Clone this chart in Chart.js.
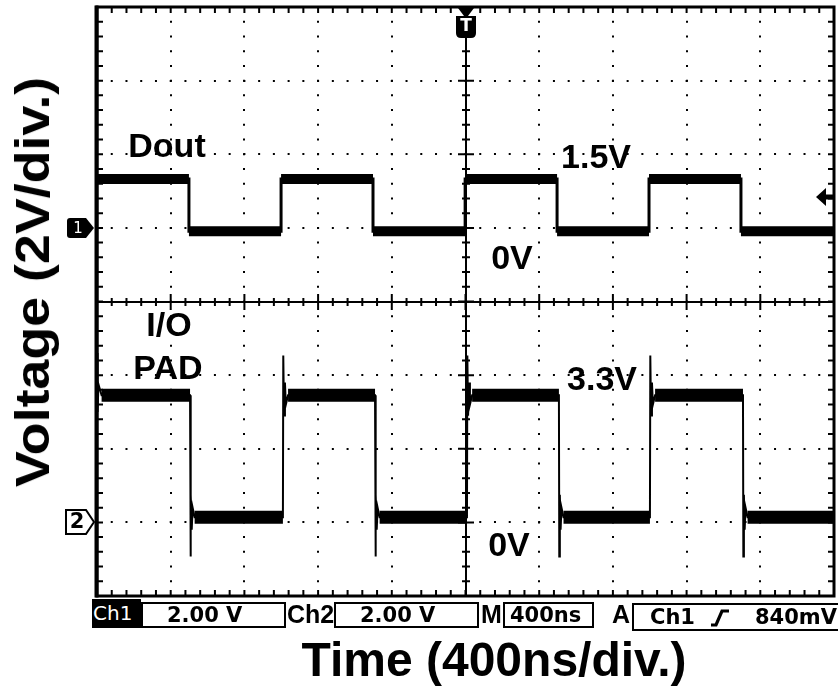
<!DOCTYPE html>
<html>
<head>
<meta charset="utf-8">
<script src="https://cdn.jsdelivr.net/npm/chart.js@4.4.1/dist/chart.umd.min.js"></script>
<style>
  html, body { margin: 0; padding: 0; background: #fff; }
  #wrap { position: relative; width: 838px; height: 693px; overflow: hidden; background: #fff; }
  #c { position: absolute; left: 0; top: 0; }
  .t { position: absolute; white-space: nowrap; color: #000; }
  .lbl { font: bold 34px "Liberation Sans", Arial, sans-serif; line-height: 34px; height: 34px; transform: translateX(-50%); }
  .box { position: absolute; box-sizing: border-box; border: 2px solid #000; background: #fff;
         font: bold 21px "DejaVu Sans", sans-serif; color: #000; white-space: nowrap; }
  .sb { font: bold 25px "Liberation Sans", Arial, sans-serif; line-height: 26px; height: 26px; }
</style>
</head>
<body>
<div id="wrap">
  <canvas id="c" width="838" height="693"></canvas>

  <!-- axis titles -->
  <div class="t" id="xtitle" style="left:494px; top:636px; font:bold 48px 'Liberation Sans', Arial, sans-serif; line-height:48px; height:48px; transform:translateX(-50%);"></div>
  <div class="t" id="ytitle" style="left:33px; top:282px; font:bold 48px 'Liberation Sans', Arial, sans-serif; line-height:48px; height:48px; transform:translate(-50%,-50%) rotate(-90deg) scaleX(1.12);"></div>

  <!-- trace annotations -->
  <div class="t lbl" id="l0" style="left:167px; top:128px;"></div>
  <div class="t lbl" id="l1" style="left:596px; top:139px;"></div>
  <div class="t lbl" id="l2" style="left:512px; top:240px;"></div>
  <div class="t lbl" id="l3" style="left:169px; top:307px;"></div>
  <div class="t lbl" id="l4" style="left:168px; top:350px;"></div>
  <div class="t lbl" id="l5" style="left:602px; top:361px;"></div>
  <div class="t lbl" id="l6" style="left:509px; top:527px;"></div>

  <!-- status bar -->
  <div class="t" id="s0" style="left:92px; top:599px; width:49px; height:29px; background:#000; color:#fff; font:20px 'DejaVu Sans', sans-serif; line-height:29px; padding-left:1px; box-sizing:border-box;"></div>
  <div class="box" style="left:141px; top:602px; width:145px; height:26px; line-height:22px; padding-left:24px;" id="s1"></div>
  <div class="t sb" id="s2" style="left:287px; top:601px;"></div>
  <div class="box" style="left:334px; top:602px; width:145px; height:26px; line-height:22px; padding-left:24px;" id="s3"></div>
  <div class="t sb" id="s4" style="left:481px; top:601px;"></div>
  <div class="box" style="left:503px; top:602px; width:91px; height:26px; line-height:22px; padding-left:5px;" id="s5"></div>
  <div class="t sb" id="s6" style="left:612px; top:601px;"></div>
  <div class="box" style="left:632px; top:603px; width:210px; height:28px; line-height:24px;" id="s7box">
    <span id="s7" style="position:absolute; left:16px; top:0;"></span>
    <svg style="position:absolute; left:76px; top:3px;" width="20" height="20" viewBox="0 0 20 20"><path d="M1 17 H6 L12 3 H19" fill="none" stroke="#000" stroke-width="3.2"/></svg>
    <span id="s8" style="position:absolute; left:121px; top:0;"></span>
  </div>
</div>

<script>
// ---------------- data ----------------
// time axis: 10 divisions of 400 ns
const timeMin = 0;
const timeMax = 4000;
const timePerDiv = 400;

// Ch1 (Dout): 2 V/div, ground marker at +1 div
const ch1Time = [0, 499, 499, 999, 999, 1498, 1498, 1998, 1998, 2497, 2497, 2996, 2996, 3495, 3495, 4000];
const ch1Volt = [1.33, 1.33, -0.09, -0.09, 1.33, 1.33, -0.09, -0.09, 1.33, 1.33, -0.09, -0.09, 1.33, 1.33, -0.09, -0.09];

// Ch2 (I/O PAD): 2 V/div, ground marker at -3 div, with overshoot / undershoot ringing at edges
const ch2Time = [0, 3, 8, 25,
  505, 507, 510, 514, 519, 530,
  1009, 1011, 1015, 1020, 1025, 1037,
  1509, 1511, 1514, 1518, 1523, 1534,
  2008, 2010, 2014, 2019, 2024, 2036,
  2507, 2509, 2512, 2516, 2521, 2532,
  3001, 3003, 3007, 3012, 3017, 3029,
  3506, 3508, 3511, 3515, 3520, 3531,
  4000];
const ch2Volt = [4.6, 3.0, 3.75, 3.45,
  3.45, -0.93, 0.75, -0.2, 0.4, 0.14,
  0.14, 4.53, 2.9, 3.8, 3.2, 3.45,
  3.45, -0.93, 0.75, -0.2, 0.4, 0.14,
  0.14, 4.53, 2.9, 3.8, 3.2, 3.45,
  3.45, -0.93, 0.75, -0.2, 0.4, 0.14,
  0.14, 4.53, 2.9, 3.8, 3.2, 3.45,
  3.45, -0.93, 0.75, -0.2, 0.4, 0.14,
  0.14];

const voltsPerDiv = 2;
const ch1GroundDiv = 1;
const ch2GroundDiv = -3;
const triggerLevel = 0.84; // V on Ch1

// texts
const xTitle = 'Time (400ns/div.)';
const yTitle = 'Voltage (2V/div.)';
const traceLabels = ['Dout', '1.5V', '0V', 'I/O', 'PAD', '3.3V', '0V'];
const statusTexts = ['Ch1', '2.00 V', 'Ch2', '2.00 V', 'M', '400ns', 'A', 'Ch1', '840mV'];

// ---------------- text overlays ----------------
document.getElementById('xtitle').textContent = xTitle;
document.getElementById('ytitle').textContent = yTitle;
traceLabels.forEach((s, i) => document.getElementById('l' + i).textContent = s);
statusTexts.forEach((s, i) => document.getElementById('s' + i).textContent = s);

// ---------------- datasets built from the arrays ----------------
function toPoints(t, v) { return t.map((x, i) => ({ x: x, y: v[i] })); }
function levelPoints(t, v) {
  const out = [];
  for (let i = 0; i < t.length - 1; i++) {
    if (v[i] === v[i + 1] && t[i + 1] > t[i]) {
      out.push({ x: t[i], y: v[i] }, { x: t[i + 1], y: v[i + 1] }, { x: t[i + 1], y: null });
    }
  }
  return out;
}

const divs = 8;
const yDivMin = -divs / 2, yDivMax = divs / 2;

const scopePlugin = {
  id: 'scope',
  beforeDatasetsDraw(chart) {
    const { ctx, chartArea: a, scales } = chart;
    const x = scales.x, y = scales.y;
    ctx.save();
    ctx.strokeStyle = '#000';
    ctx.lineWidth = 2;
    const cx = Math.round(x.getPixelForValue((timeMin + timeMax) / 2));
    const cy = Math.round(y.getPixelForValue(0));
    ctx.beginPath();
    ctx.moveTo(a.left, cy); ctx.lineTo(a.right, cy);
    ctx.moveTo(cx, a.top); ctx.lineTo(cx, a.bottom);
    // minor ticks on the centre lines
    const nx = (timeMax - timeMin) / timePerDiv * 5;
    for (let k = 0; k <= nx; k++) {
      const px = x.getPixelForValue(timeMin + k * timePerDiv / 5);
      const L = (k % 5 === 0) ? 8 : 4;
      ctx.moveTo(px, cy - L); ctx.lineTo(px, cy + L);
    }
    for (let k = 0; k <= divs * 5; k++) {
      const py = y.getPixelForValue(yDivMin + k / 5);
      const L = (k % 5 === 0) ? 8 : 4;
      ctx.moveTo(cx - L, py); ctx.lineTo(cx + L, py);
    }
    ctx.stroke();
    ctx.restore();
  },
  afterDatasetsDraw(chart) {
    const { ctx, chartArea: a, scales } = chart;
    const x = scales.x, y = scales.y;
    ctx.save();
    ctx.strokeStyle = '#000';
    ctx.fillStyle = '#000';
    // frame
    ctx.lineWidth = 3;
    ctx.strokeRect(a.left, a.top, a.right - a.left, a.bottom - a.top);
    ctx.lineWidth = 4;
    ctx.beginPath(); ctx.moveTo(a.left - 0.5, a.top - 1.5); ctx.lineTo(a.left - 0.5, a.bottom + 1.5); ctx.stroke();
    // border ticks
    ctx.lineWidth = 2;
    ctx.beginPath();
    const nx = (timeMax - timeMin) / timePerDiv * 5;
    for (let k = 1; k < nx; k++) {
      const px = x.getPixelForValue(timeMin + k * timePerDiv / 5);
      ctx.moveTo(px, a.top); ctx.lineTo(px, a.top + 6);
      ctx.moveTo(px, a.bottom); ctx.lineTo(px, a.bottom - 6);
    }
    for (let k = 1; k < divs * 5; k++) {
      const py = y.getPixelForValue(yDivMin + k / 5);
      ctx.moveTo(a.left, py); ctx.lineTo(a.left + 6, py);
      ctx.moveTo(a.right, py); ctx.lineTo(a.right - 6, py);
    }
    ctx.stroke();

    // channel 1 ground marker (filled)
    const g1 = Math.round(scales.y1.getPixelForValue(0));
    ctx.beginPath();
    ctx.moveTo(70, g1 - 10); ctx.lineTo(86, g1 - 10); ctx.lineTo(94, g1); ctx.lineTo(86, g1 + 10);
    ctx.lineTo(70, g1 + 10); ctx.quadraticCurveTo(67, g1 + 10, 67, g1 + 7); ctx.lineTo(67, g1 - 7);
    ctx.quadraticCurveTo(67, g1 - 10, 70, g1 - 10); ctx.closePath(); ctx.fill();
    ctx.fillStyle = '#fff';
    ctx.font = '15px "DejaVu Sans", sans-serif';
    ctx.textAlign = 'center'; ctx.textBaseline = 'middle';
    ctx.fillText('1', 78, g1 + 1);

    // channel 2 ground marker (outlined)
    const g2 = Math.round(scales.y2.getPixelForValue(0));
    ctx.fillStyle = '#fff';
    ctx.lineWidth = 2;
    ctx.beginPath();
    ctx.moveTo(66, g2 - 12); ctx.lineTo(86, g2 - 12); ctx.lineTo(94, g2); ctx.lineTo(86, g2 + 12);
    ctx.lineTo(66, g2 + 12); ctx.closePath(); ctx.fill(); ctx.stroke();
    ctx.fillStyle = '#000';
    ctx.font = 'bold 21px "DejaVu Sans", sans-serif';
    ctx.fillText('2', 77, g2 + 1);

    // trigger position marker
    const tx = Math.round(x.getPixelForValue((timeMin + timeMax) / 2));
    ctx.beginPath();
    ctx.moveTo(tx - 8, a.top + 1); ctx.lineTo(tx + 8, a.top + 1); ctx.lineTo(tx + 2, a.top + 9);
    ctx.lineTo(tx - 2, a.top + 9); ctx.closePath(); ctx.fill();
    ctx.beginPath();
    ctx.moveTo(tx - 10, a.top + 9); ctx.lineTo(tx + 10, a.top + 9); ctx.lineTo(tx + 10, a.top + 26);
    ctx.quadraticCurveTo(tx + 10, a.top + 31, tx + 5, a.top + 31); ctx.lineTo(tx - 5, a.top + 31);
    ctx.quadraticCurveTo(tx - 10, a.top + 31, tx - 10, a.top + 26); ctx.closePath(); ctx.fill();
    ctx.fillStyle = '#fff';
    ctx.font = 'bold 17px "DejaVu Sans", sans-serif';
    ctx.fillText('T', tx, a.top + 20);

    // trigger level arrow (Ch1)
    const ty = Math.round(scales.y1.getPixelForValue(triggerLevel));
    ctx.fillStyle = '#000';
    ctx.beginPath();
    ctx.moveTo(a.right - 18, ty); ctx.lineTo(a.right - 8, ty - 9); ctx.lineTo(a.right - 8, ty + 9); ctx.closePath(); ctx.fill();
    ctx.fillRect(a.right - 9, ty - 2.5, 8, 5);
    ctx.restore();
  }
};

new Chart(document.getElementById('c'), {
  type: 'line',
  data: {
    datasets: [
      { label: 'Dout band', data: levelPoints(ch1Time, ch1Volt), yAxisID: 'y1',
        borderColor: '#000', borderWidth: 10, borderCapStyle: 'butt', pointRadius: 0, spanGaps: false, tension: 0 },
      { label: 'Dout', data: toPoints(ch1Time, ch1Volt), yAxisID: 'y1',
        borderColor: '#000', borderWidth: 3, pointRadius: 0, tension: 0 },
      { label: 'I/O PAD band', data: levelPoints(ch2Time, ch2Volt), yAxisID: 'y2',
        borderColor: '#000', borderWidth: 13, borderCapStyle: 'butt', pointRadius: 0, spanGaps: false, tension: 0 },
      { label: 'I/O PAD', data: toPoints(ch2Time, ch2Volt), yAxisID: 'y2',
        borderColor: '#000', borderWidth: 2, pointRadius: 0, tension: 0 }
    ]
  },
  options: {
    responsive: false,
    animation: false,
    events: [],
    layout: { padding: { left: 97, right: 4, top: 7, bottom: 97 } },
    plugins: { legend: { display: false }, tooltip: { enabled: false }, title: { display: false } },
    scales: {
      x: {
        type: 'linear', min: timeMin, max: timeMax,
        ticks: { display: false, stepSize: timePerDiv },
        grid: { color: '#000', lineWidth: 2, drawTicks: false },
        border: { display: false, dash: [2, 12.725], dashOffset: 1 }
      },
      y: {
        type: 'linear', min: yDivMin, max: yDivMax,
        ticks: { display: false, stepSize: 1 },
        grid: { color: '#000', lineWidth: 2, drawTicks: false },
        border: { display: false, dash: [2, 12.74], dashOffset: 1 }
      },
      y1: { type: 'linear', display: false,
        min: (yDivMin - ch1GroundDiv) * voltsPerDiv, max: (yDivMax - ch1GroundDiv) * voltsPerDiv },
      y2: { type: 'linear', display: false,
        min: (yDivMin - ch2GroundDiv) * voltsPerDiv, max: (yDivMax - ch2GroundDiv) * voltsPerDiv }
    }
  },
  plugins: [scopePlugin]
});
</script>
</body>
</html>
